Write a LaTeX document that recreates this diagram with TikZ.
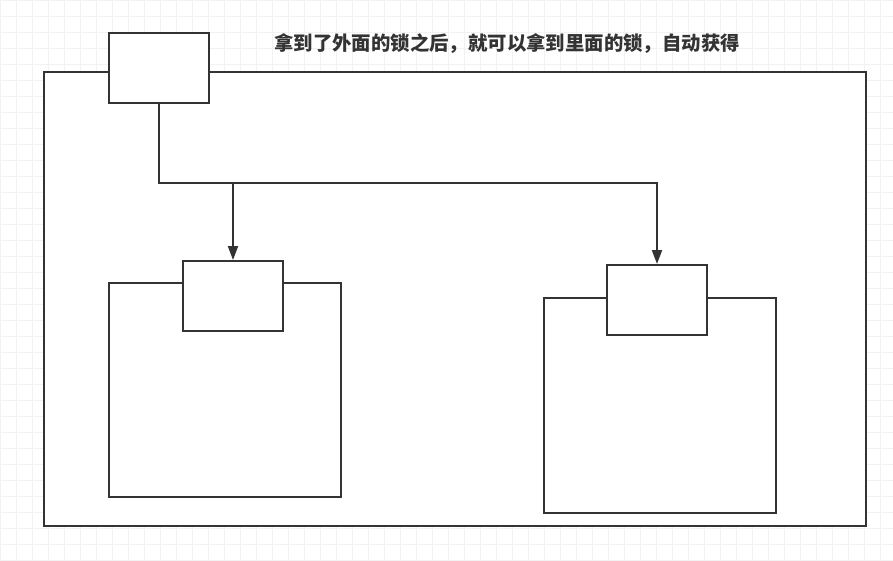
\documentclass[tikz,border=0pt]{standalone}
\usepackage{fontspec}
\newfontfamily\cjk{Noto Sans CJK SC}
\usetikzlibrary{arrows.meta}
\definecolor{linegray}{HTML}{333333}
\tikzset{
 box/.style={draw=linegray, line width=2pt, fill=white, inner sep=0pt},
 lock/.style={box, minimum width=100pt, minimum height=70pt},
 link/.style={draw=linegray, line width=2pt}
}
\begin{document}
\begin{tikzpicture} [x=1pt, y=-1pt]
\useasboundingbox (0,0) rectangle (893,561);
\fill[white] (0,0) rectangle (893,561);
\draw[black!5] (0,0) grid[step=16pt] (893,561);
% outer lock and the two inner ones
\node[box, minimum width=822pt, minimum height=454pt] (outer) at (455,299) {};
\node[box, minimum width=232pt, minimum height=214pt] (leftbody) at (225,390) {};
\node[box, minimum width=232pt, minimum height=215pt] (rightbody) at (660,405.5) {};
\node[lock] (outerlock) at (159,68) {};
\node[lock] (leftlock) at (233,296) {};
\node[lock] (rightlock) at (657,300) {};
\node[font=\cjk\bfseries\fontsize{19.4}{22}\selectfont, text=linegray] (note) at (507,44) {拿到了外面的锁之后，就可以拿到里面的锁，自动获得};
\coordinate (split) at (159,183);
\draw[link, -{Triangle[length=14pt, width=10pt]}] (outerlock.south) -- (split) -| (leftlock.north);
\draw[link, -{Triangle[length=14pt, width=10pt]}] (split) -| (rightlock.north);
\end{tikzpicture}
\end{document}
